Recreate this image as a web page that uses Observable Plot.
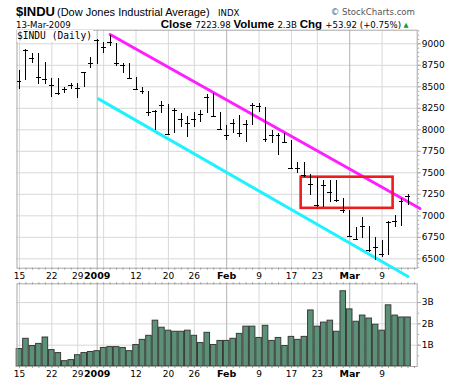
<!DOCTYPE html>
<html><head><meta charset="utf-8">
<script src="https://cdn.jsdelivr.net/npm/d3@7"></script>
<script src="https://cdn.jsdelivr.net/npm/@observablehq/plot@0.6"></script>
<style>
body{margin:0;background:#fff;}
#chart{position:relative;width:460px;height:383px;overflow:hidden;background:#fff;}
#chart svg{position:absolute;left:0;overflow:visible;}
#panelLabel{position:absolute;left:17px;top:30px;background:#fff;font-family:"DejaVu Sans Mono";font-size:9.6px;line-height:12px;padding:0 1px 0 0;white-space:pre;}
</style></head><body><div id="chart"></div>
<script>
// ---- header text ----
const symbol = "$INDU";
const fullName = "(Dow Jones Industrial Average)";
const exchange = "INDX";
const asOf = "13-Mar-2009";
const closeStr = "7223.98";
const volStr = "2.3B";
const chgStr = "+53.92 (+0.75%)";
const credit = "\u00A9 StockCharts.com";

// ---- trading days (Dec 15 2008 .. Mar 13 2009) ----
const days = ["2008-12-15","2008-12-16","2008-12-17","2008-12-18","2008-12-19",
"2008-12-22","2008-12-23","2008-12-24","2008-12-26",
"2008-12-29","2008-12-30","2008-12-31","2009-01-02",
"2009-01-05","2009-01-06","2009-01-07","2009-01-08","2009-01-09",
"2009-01-12","2009-01-13","2009-01-14","2009-01-15","2009-01-16",
"2009-01-20","2009-01-21","2009-01-22","2009-01-23",
"2009-01-26","2009-01-27","2009-01-28","2009-01-29","2009-01-30",
"2009-02-02","2009-02-03","2009-02-04","2009-02-05","2009-02-06",
"2009-02-09","2009-02-10","2009-02-11","2009-02-12","2009-02-13",
"2009-02-17","2009-02-18","2009-02-19","2009-02-20",
"2009-02-23","2009-02-24","2009-02-25","2009-02-26","2009-02-27",
"2009-03-02","2009-03-03","2009-03-04","2009-03-05","2009-03-06",
"2009-03-09","2009-03-10","2009-03-11","2009-03-12","2009-03-13"];

const highs = [8690,8930,8884,8884,8786,8593,8593,8495,8535,8535,8670,8837,9047,
9019,9097,9000,8767,8767,8612,8495,8445,8224,8333,8294,8244,8186,8155,
8205,8224,8410,8419,8205,8050,8116,8166,8108,8310,8310,8263,7992,7953,7960,
7875,7624,7624,7477,7449,7410,7410,7410,7198,7062,6860,6977,6876,6751,
6713,6934,7004,7200,7250];
const lows = [8465,8573,8767,8527,8527,8372,8399,8419,8465,8360,8488,8709,8759,
8891,8969,8740,8651,8581,8465,8407,8155,7992,8186,7945,7953,8030,7914,
8030,8088,8186,8140,7992,7875,7953,7914,7856,8050,8205,7856,7837,7701,7837,
7553,7488,7449,7236,7100,7100,7158,7158,7031,6751,6713,6733,6577,6481,
6519,6539,6860,6870,7120];
const closes = [8564.53,8924.14,8824.34,8604.99,8579.11,8519.69,8419.49,8468.48,8515.55,
8483.93,8668.39,8776.39,9034.69,8952.89,9015.10,8769.70,8742.46,8599.18,
8473.97,8448.56,8200.14,8212.49,8281.22,7949.09,8228.10,8122.80,8077.56,
8116.03,8174.73,8375.45,8149.01,8000.86,7936.83,8078.36,7956.66,8063.07,8280.59,
8270.87,7888.88,7939.53,7932.76,7850.41,7552.60,7555.63,7465.95,7365.67,
7114.78,7350.94,7270.89,7182.08,7062.93,6763.29,6726.02,6875.84,6594.44,6626.94,
6547.05,6926.49,6930.40,7170.06,7223.98];
// volume in billions of shares
const volumes = [0.82,1.30,0.96,1.06,1.36,0.77,0.63,0.25,0.30,0.53,0.63,0.68,0.72,
0.87,0.91,0.91,0.87,0.72,1.01,1.25,1.44,2.15,1.82,1.68,1.63,1.63,1.68,1.44,1.10,
1.58,1.01,1.20,1.20,1.30,1.53,1.87,1.87,1.34,1.91,1.20,1.34,0.96,1.39,1.25,1.39,
2.63,1.87,2.06,2.15,1.63,3.53,2.68,2.10,2.39,2.25,1.96,1.68,2.87,2.39,2.30,2.30];

// ---- axis ticks ----
const xTickIdx   = [0,5,9,12,18,23,27,32,37,42,46,51,56];
const xTickText  = ["15","22","29","2009","12","20","26","Feb","9","17","23","Mar","9"];
const xTickBold  = [false,false,false,true,false,false,false,true,false,false,false,true,false];
const weekGridIdx  = [0,5,9,13,18,23,27,37,42,46,56];
const monthGridIdx = [12,32,51];
const priceTicks = [6500,6750,7000,7250,7500,7750,8000,8250,8500,8750,9000];
const volTicks = [1,2,3];
const volTickText = ["1B","2B","3B"];

// ---- drawn annotations (date index, price) ----
const upperTrend = [{i:14.0, p:9108},{i:61.85, p:7085}];
const lowerTrend = [{i:12.2, p:8360},{i:60.0, p:6294}];
const focusBox = [{i1:43.5, i2:57.7, p1:7087, p2:7449}];

const bars = days.map((d, i) => ({i, date: d, high: highs[i], low: lows[i], close: closes[i], vol: volumes[i]}));
const xLabels = xTickIdx.map((i, k) => ({i, t: xTickText[k], bold: xTickBold[k]}));
const dayIdx = d3.range(days.length + 1);

const xScale = {type: "linear", domain: [-0.38, 61.42], label: null};
const style = {fontFamily: "DejaVu Sans", fontSize: "9px", background: "transparent", overflow: "visible"};
const gridColor = "#d8d8d8", monthGrid = "#b2b2b2", frameColor = "#a8a8a8";

const chart = document.getElementById("chart");

// ---- header ----
const hdr = d3.create("svg").attr("width", 460).attr("height", 30).style("top", "0px");
hdr.append("text").attr("x", 16).attr("y", 16).attr("font-family", "Liberation Sans").attr("font-weight", "bold").attr("font-size", 13).text(symbol);
hdr.append("text").attr("x", 57).attr("y", 15.5).attr("font-family", "Liberation Sans").attr("font-size", 11).text(fullName);
hdr.append("text").attr("x", 218).attr("y", 15.5).attr("font-family", "DejaVu Sans").attr("font-size", 8.6).text(exchange);
hdr.append("text").attr("x", 415).attr("y", 15).attr("text-anchor", "end").attr("font-family", "DejaVu Sans").attr("font-size", 8.6).attr("fill", "#555").text(credit);
hdr.append("text").attr("x", 16).attr("y", 27.5).attr("font-family", "DejaVu Sans").attr("font-size", 8.6).text(asOf);
const l2 = hdr.append("text").attr("x", 401).attr("y", 27.5).attr("text-anchor", "end");
const bold = s => l2.append("tspan").attr("font-family", "Liberation Sans").attr("font-weight", "bold").attr("font-size", 11.5).text(s);
const norm = s => l2.append("tspan").attr("font-family", "DejaVu Sans").attr("font-size", 8.6).text(s);
bold("Close "); norm(closeStr + "  "); bold("Volume "); norm(volStr + "  "); bold("Chg "); norm(chgStr);
hdr.append("text").attr("x", 406).attr("y", 27).attr("text-anchor", "middle").attr("font-size", 6.5).attr("font-family", "DejaVu Sans").attr("fill", "#1a9a2a").text("\u25B2");
chart.appendChild(hdr.node());

// ---- price panel ----
const price = Plot.plot({
  width: 460, height: 280,
  marginTop: 29.7, marginBottom: 12.3, marginLeft: 16.5, marginRight: 43.3,
  style,
  x: xScale,
  y: {domain: [6391, 9158], label: null},
  marks: [
    Plot.gridY({ticks: priceTicks, stroke: gridColor, strokeOpacity: 1}),
    Plot.gridX({ticks: weekGridIdx, stroke: gridColor, strokeOpacity: 1}),
    Plot.gridX({ticks: monthGridIdx, stroke: monthGrid, strokeOpacity: 1}),
    Plot.frame({stroke: frameColor}),
    Plot.axisY({anchor: "right", ticks: priceTicks, tickSize: 3, tickPadding: 1.5, label: null, tickFormat: d => String(d), fontSize: 9, stroke: "#999", color: "#000"}),
    Plot.axisY({anchor: "right", ticks: d3.range(6400, 9151, 50), tickSize: 1.5, label: null, tickFormat: () => "", stroke: "#aaa"}),
    Plot.axisX({anchor: "bottom", ticks: dayIdx, tickSize: 2, label: null, tickFormat: () => "", stroke: "#999"}),
    Plot.text(xLabels, {filter: d => !d.bold, x: "i", text: "t", frameAnchor: "bottom", lineAnchor: "top", dy: 4, fontSize: 9, fill: "#000"}),
    Plot.text(xLabels, {filter: d => d.bold, x: "i", text: "t", frameAnchor: "bottom", lineAnchor: "top", dy: 4, fontSize: 9.5, fontWeight: "bold", fill: "#000"}),
    Plot.line(upperTrend, {x: "i", y: "p", stroke: "#ff1eff", strokeWidth: 3}),
    Plot.line(lowerTrend, {x: "i", y: "p", stroke: "#1ef2ff", strokeWidth: 3}),
    Plot.rect(focusBox, {x1: "i1", x2: "i2", y1: "p1", y2: "p2", fill: "none", stroke: "#ee1c1c", strokeWidth: 2.6}),
    Plot.ruleX(bars, {x: "i", y1: "low", y2: "high", stroke: "#000", strokeWidth: 1, shapeRendering: "crispEdges"}),
    Plot.ruleY(bars, {y: "close", x1: d => d.i - 0.38, x2: d => d.i + 0.38, stroke: "#000", strokeWidth: 1, shapeRendering: "crispEdges"})
  ]
});
price.style.top = "0px";
chart.appendChild(price);

const lab = document.createElement("div");
lab.id = "panelLabel";
lab.textContent = symbol + " (Daily)";
chart.appendChild(lab);

// ---- volume panel ----
const vol = Plot.plot({
  width: 460, height: 103,
  marginTop: 3.3, marginBottom: 17, marginLeft: 16.5, marginRight: 43.3,
  style,
  x: xScale,
  y: {domain: [0, 3.88], label: null},
  marks: [
    Plot.gridY({ticks: volTicks, stroke: gridColor, strokeOpacity: 1}),
    Plot.gridX({ticks: weekGridIdx, stroke: gridColor, strokeOpacity: 1}),
    Plot.gridX({ticks: monthGridIdx, stroke: monthGrid, strokeOpacity: 1}),
    Plot.rect(bars, {x1: d => d.i - 0.43, x2: d => d.i + 0.43, y1: 0, y2: "vol", fill: "#5b9277", stroke: "#3a3a3a", strokeWidth: 1}),
    Plot.frame({stroke: frameColor}),
    Plot.axisY({anchor: "right", ticks: volTicks, tickSize: 3, tickPadding: 1.5, label: null, tickFormat: d => volTickText[volTicks.indexOf(d)], fontSize: 9, stroke: "#999", color: "#000"}),
    Plot.axisY({anchor: "right", ticks: d3.range(0.5, 3.9, 0.5), tickSize: 1.5, label: null, tickFormat: () => "", stroke: "#aaa"}),
    Plot.axisX({anchor: "top", ticks: dayIdx, tickSize: 2, label: null, tickFormat: () => "", stroke: "#999"}),
    Plot.axisX({anchor: "bottom", ticks: dayIdx, tickSize: 2, label: null, tickFormat: () => "", stroke: "#999"}),
    Plot.text(xLabels, {filter: d => !d.bold, x: "i", text: "t", frameAnchor: "bottom", lineAnchor: "top", dy: 4, fontSize: 9, fill: "#000"}),
    Plot.text(xLabels, {filter: d => d.bold, x: "i", text: "t", frameAnchor: "bottom", lineAnchor: "top", dy: 4, fontSize: 9.5, fontWeight: "bold", fill: "#000"})
  ]
});
vol.style.top = "280px";
chart.appendChild(vol);
</script>
</body></html>
